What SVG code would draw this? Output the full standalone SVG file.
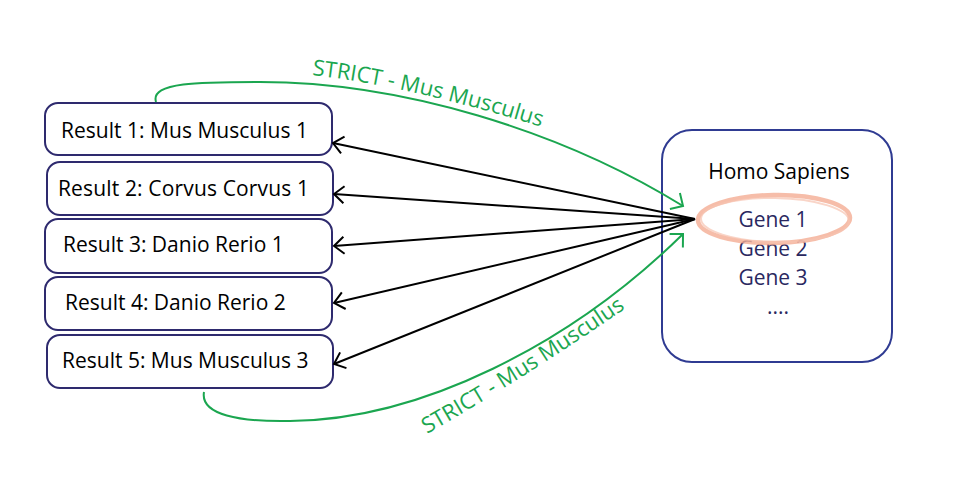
<svg xmlns="http://www.w3.org/2000/svg" width="961" height="482" viewBox="0 0 961 482">
<style>
.box{fill:#fff;stroke:#2e2a6e;stroke-width:2}
.hbox{fill:#fff;stroke:#2f3b92;stroke-width:2}
.t{font-family:"Open Sans","Noto Sans",sans-serif;font-size:21px;fill:#000}
.g{font-family:"Open Sans","Noto Sans",sans-serif;font-size:21px;fill:#2a2860}
.lbl{font-family:"Open Sans","Noto Sans",sans-serif;font-size:22px;fill:#1ba650}
.blk{fill:none;stroke:#000;stroke-width:2}
.grn{fill:none;stroke:#1ba650;stroke-width:2}
</style>
<defs>
<marker id="ab" markerUnits="userSpaceOnUse" markerWidth="30" markerHeight="30" viewBox="-15 -15 30 30" refX="0" refY="0" orient="auto" overflow="visible">
<path d="M-10,-8.5 L0,0 L-10,8.5" fill="none" stroke="#000" stroke-width="2"/>
</marker>
<marker id="ag" markerUnits="userSpaceOnUse" markerWidth="30" markerHeight="30" viewBox="-15 -15 30 30" refX="0" refY="0" orient="auto" overflow="visible">
<path d="M-9.5,-9.5 L0,0 L-9.5,9.5" fill="none" stroke="#1ba650" stroke-width="2"/>
</marker>
<path id="p1" d="M312,75 Q410,86 545,128"/>
<path id="p2" d="M427,434 Q530,375 636,301"/>
</defs>
<rect width="961" height="482" fill="#fff"/>
<g id="r1"><rect class="box" x="45" y="103" width="287" height="52" rx="13"/><text class="t" x="61" y="138" textLength="247">Result 1: Mus Musculus 1</text></g>
<g id="r2"><rect class="box" x="47" y="162" width="286" height="53" rx="13"/><text class="t" x="58" y="196" textLength="251">Result 2: Corvus Corvus 1</text></g>
<g id="r3"><rect class="box" x="45" y="219" width="287" height="54" rx="13"/><text class="t" x="63" y="252">Result 3: Danio Rerio 1</text></g>
<g id="r4"><rect class="box" x="45" y="277" width="287" height="53" rx="13"/><text class="t" x="65" y="310">Result 4: Danio Rerio 2</text></g>
<g id="r5"><rect class="box" x="47" y="335" width="286" height="53" rx="13"/><text class="t" x="62" y="368">Result 5: Mus Musculus 3</text></g>
<g id="homo">
<rect class="hbox" x="662" y="130" width="230" height="232" rx="30"/>
<text class="t" x="779" y="179" text-anchor="middle">Homo Sapiens</text>
<text class="g" x="773" y="227" text-anchor="middle">Gene 1</text>
<text class="g" x="773" y="256" text-anchor="middle">Gene 2</text>
<text class="g" x="773" y="285" text-anchor="middle">Gene 3</text>
<text class="g" x="778" y="314" text-anchor="middle">....</text>
<ellipse cx="774" cy="219" rx="76" ry="24" fill="none" stroke="#f4ad94" stroke-width="4.5" opacity="0.8" transform="rotate(-1 774 219)"/>
<ellipse cx="775" cy="220" rx="74" ry="22" fill="none" stroke="#f6c3b0" stroke-width="2" opacity="0.7" transform="rotate(1 775 220)"/>
</g>
<g id="connectors">
<line class="blk" x1="695" y1="219" x2="333" y2="143" marker-end="url(#ab)"/>
<line class="blk" x1="695" y1="219" x2="334" y2="194" marker-end="url(#ab)"/>
<line class="blk" x1="695" y1="219" x2="334" y2="246" marker-end="url(#ab)"/>
<line class="blk" x1="695" y1="219" x2="334" y2="303" marker-end="url(#ab)"/>
<line class="blk" x1="695" y1="219" x2="334" y2="364" marker-end="url(#ab)"/>
<path class="grn" d="M156,102 C150,82 200,82 260,82 C400,82 560,130 683,206" marker-end="url(#ag)"/>
<path class="grn" d="M204,392 C200,415 240,422 290,421 C420,420 570,345 683,234" marker-end="url(#ag)"/>
<text class="lbl"><textPath href="#p1">STRICT - Mus Musculus</textPath></text>
<text class="lbl"><textPath href="#p2">STRICT - Mus Musculus</textPath></text>
</g>
</svg>
